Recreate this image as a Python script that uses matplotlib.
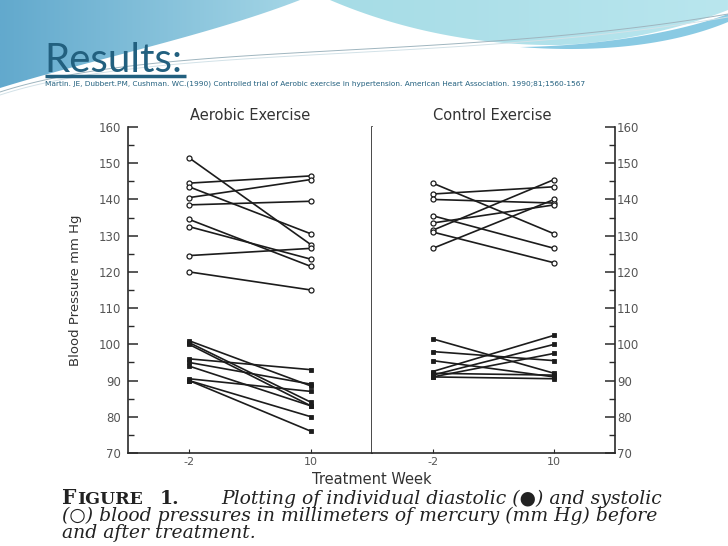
#!/usr/bin/env python

import numpy as np
import matplotlib.pyplot as plt
from matplotlib.patches import Polygon
from matplotlib.colors import LinearSegmentedColormap
from matplotlib.ticker import MultipleLocator

# Treatment weeks on the x axis
weeks = [-2, 10]

# Aerobic exercise group (before, after) - systolic (open) and diastolic (filled)
aerobic_sys_pre = [151.5, 144.5, 143.5, 140.5, 138.5, 134.5, 132.5, 124.5, 120]
aerobic_sys_post = [127.5, 146.5, 130.5, 145.5, 139.5, 121.5, 123.5, 126.5, 115]
aerobic_dia_pre = [101, 100.5, 100, 96, 95, 94, 90.5, 90, 90]
aerobic_dia_post = [88.5, 84, 83, 93, 89, 83, 87, 80, 76]

# Control exercise group
control_sys_pre = [144.5, 141.5, 140, 135.5, 133.5, 131.5, 131, 126.5]
control_sys_post = [130.5, 143.5, 139, 126.5, 138.5, 145.5, 122.5, 140]
control_dia_pre = [101.5, 98, 95.5, 92.5, 91.5, 91, 91, 92]
control_dia_post = [92, 95.5, 91, 102.5, 100, 97.5, 90.5, 91.5]

panel_titles = ["Aerobic Exercise", "Control Exercise"]

W, H = 728, 546
TEAL = "#22607f"
INK = "#1c1c1c"


def bezier(p0, p1, p2, p3, n=80):
    t = np.linspace(0, 1, n)[:, None]
    p0, p1, p2, p3 = (np.array(p, dtype=float) for p in (p0, p1, p2, p3))
    return (1 - t) ** 3 * p0 + 3 * (1 - t) ** 2 * t * p1 + 3 * (1 - t) * t ** 2 * p2 + t ** 3 * p3


def gradient_patch(ax, verts, c0, c1, x0, x1):
    poly = Polygon(verts, closed=True, facecolor="none", edgecolor="none")
    ax.add_patch(poly)
    cmap = LinearSegmentedColormap.from_list("g", [c0, c1])
    im = ax.imshow(np.linspace(0, 1, 256)[None, :], cmap=cmap, aspect="auto",
                   extent=(x0, x1, 120, 0), interpolation="bilinear")
    im.set_clip_path(poly)


fig = plt.figure(figsize=(W / 100, H / 100), dpi=100)
fig.patch.set_facecolor("white")

# Slide background decoration (pixel coordinates)
bg = fig.add_axes([0, 0, 1, 1], zorder=-5)
bg.axis("off")

left_edge = bezier((300, 0), (210, 35), (90, 60), (0, 88))
left_verts = np.vstack([[[0, 0]], left_edge])
gradient_patch(bg, left_verts, "#62a9cd", "#a4d6e6", 0, 300)

right_edge = np.vstack([bezier((330, 0), (400, 30), (480, 46), (560, 45)),
                        bezier((560, 45), (630, 42), (690, 25), (728, 10))[1:]])
right_verts = np.vstack([right_edge, [[728, 0]]])
gradient_patch(bg, right_verts, "#a6dce6", "#b9e6ee", 330, 728)

stripe = np.vstack([bezier((520, 47), (600, 46), (680, 32), (728, 14)),
                    bezier((728, 22), (680, 42), (610, 54), (520, 47))])
bg.add_patch(Polygon(stripe, closed=True, facecolor="#6cbddd", edgecolor="none", alpha=0.8))

for off, col in [(0, "#9fb5bf"), (3, "#d3e2e8")]:
    sw = bezier((0, 92 + off), (160, 40 + off), (450, 62 + off), (728, 14 + off))
    bg.plot(sw[:, 0], sw[:, 1], color=col, lw=0.7)

bg.set_xlim(0, W)
bg.set_ylim(H, 0)

# Header texts
bg.text(44, 72, "Results:", fontsize=29, family="Lato", color=TEAL, va="baseline", ha="left")
bg.plot([45, 186], [76, 76], color=TEAL, lw=2.5, solid_capstyle="butt")
bg.text(45, 84, "Martin. JE, Dubbert.PM, Cushman. WC.(1990) Controlled trial of Aerobic exercise in "
        "hypertension. American Heart Association. 1990;81;1560-1567",
        fontsize=5.3, color=TEAL, va="center", ha="left")

# Two panels side by side, no gap
bottom = 1 - 453 / H
height = 326 / H
ax1 = fig.add_axes([128 / W, bottom, 244 / W, height])
ax2 = fig.add_axes([372 / W, bottom, 243 / W, height])

groups = [
    (ax1, aerobic_sys_pre, aerobic_sys_post, aerobic_dia_pre, aerobic_dia_post),
    (ax2, control_sys_pre, control_sys_post, control_dia_pre, control_dia_post),
]

for (ax, sp, so, dp, do), title in zip(groups, panel_titles):
    for a, b in zip(sp, so):
        ax.plot(weeks, [a, b], color=INK, lw=1.2, marker="o", ms=3.6,
                mfc="white", mec=INK, mew=0.9)
    for a, b in zip(dp, do):
        ax.plot(weeks, [a, b], color=INK, lw=1.2, marker="s", ms=3.4,
                mfc=INK, mec=INK, mew=0.6)

    ax.set_xlim(-8, 16)
    ax.set_ylim(70, 160)
    ax.set_xticks(weeks)
    ax.set_xticklabels(["-2", "10"])
    ax.yaxis.set_major_locator(MultipleLocator(10))
    ax.yaxis.set_minor_locator(MultipleLocator(5))
    ax.spines["top"].set_visible(False)
    for s in ax.spines.values():
        s.set_linewidth(1.2)
        s.set_color("#2a2a2a")
    ax.tick_params(axis="x", direction="in", length=3, labelsize=8,
                   labelcolor="#555555", color="#2a2a2a", pad=3)
    ax.tick_params(axis="y", which="major", direction="in", length=7, width=1.1,
                   labelsize=8.5, labelcolor="#555555", color="#2a2a2a")
    ax.tick_params(axis="y", which="minor", direction="in", length=4, width=1.0,
                   color="#2a2a2a")
    ax.text(0.5 if ax is ax1 else 0.494, 1.012, title, transform=ax.transAxes,
            ha="center", va="bottom", fontsize=10.5, color="#333333")

ax1.tick_params(axis="y", which="both", left=True, right=False, pad=5)
ax1.set_ylabel("Blood Pressure mm Hg", fontsize=9.5, color="#333333")
ax1.yaxis.set_label_coords(-46 / 244, 0.5)

ax2.spines["left"].set_visible(False)
ax2.yaxis.tick_right()
ax2.tick_params(axis="y", which="both", left=False, right=True, pad=1.5)

bg.text(372, 479, "Treatment Week", fontsize=10.5, color="#333333", ha="center", va="center")

# Figure caption from the scanned paper
serif = ["DejaVu Serif", "DejaVu Sans"]
cap = dict(fontsize=13.5, family=serif, color="#222222", va="baseline")
bg.text(62, 504, "F", **{**cap, "fontsize": 14.5, "weight": "semibold"})
bg.text(77, 504, "IGURE", **{**cap, "fontsize": 12.5, "weight": "semibold"})
bg.text(160, 504, "1.", **{**cap, "weight": "semibold"})
bg.text(221, 504, "Plotting of individual diastolic (\u25cf) and systolic", style="italic", **cap)
bg.text(62, 521, "(\u25cb) blood pressures in millimeters of mercury (mm Hg) before",
        style="italic", **cap)
bg.text(62, 538, "and after treatment.", style="italic", **cap)

fig.savefig("out.png", dpi=100)
